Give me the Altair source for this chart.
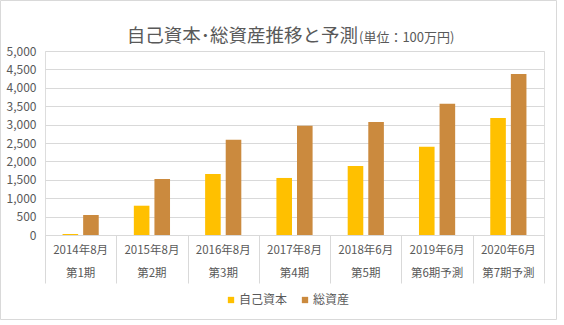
import altair as alt
import pandas as pd

periods_date = ["2014年8月", "2015年8月", "2016年8月", "2017年8月", "2018年6月", "2019年6月", "2020年6月"]
periods_term = ["第1期", "第2期", "第3期", "第4期", "第5期", "第6期予測", "第7期予測"]
series_names = ["自己資本", "総資産"]
equity = [30, 796, 1658, 1550, 1875, 2400, 3179]
assets = [543, 1522, 2585, 2970, 3072, 3568, 4375]
y_ticks = [0, 500, 1000, 1500, 2000, 2500, 3000, 3500, 4000, 4500, 5000]

colors = ["#FFC000", "#CB8A3E"]
FONT = "Noto Sans CJK JP"
TXT = "#595959"
GRID = "#D9D9D9"

rows = []
for i, p in enumerate(periods_date):
    rows.append({"period": p, "term": periods_term[i], "series": series_names[0], "value": equity[i], "order": 0})
    rows.append({"period": p, "term": periods_term[i], "series": series_names[1], "value": assets[i], "order": 1})
df = pd.DataFrame(rows)
labels_df = pd.DataFrame({"period": periods_date, "term": periods_term})

W, H = 499, 184

x_enc = alt.X(
    "period:N",
    sort=periods_date,
    scale=alt.Scale(paddingInner=0, paddingOuter=0),
    axis=alt.Axis(
        title=None, labels=False, tickBand="extent", tickColor=GRID, tickSize=48,
        domainColor=GRID, grid=False, tickWidth=1, domainWidth=1,
    ),
)

bars = alt.Chart(df).mark_bar().encode(
    x=x_enc,
    xOffset=alt.XOffset("series:N", sort=series_names,
                        scale=alt.Scale(paddingInner=0.243, paddingOuter=0.852)),
    y=alt.Y("value:Q", scale=alt.Scale(domain=[0, 5000], nice=False),
            axis=alt.Axis(title=None, values=y_ticks, format=",d", grid=True, gridColor=GRID,
                          domain=False, ticks=False, tickSize=0, labelPadding=9,
                          labelFont=FONT, labelFontSize=12, labelColor=TXT)),
    color=alt.Color("series:N", sort=series_names,
                    scale=alt.Scale(domain=series_names, range=colors),
                    legend=alt.Legend(title=None, orient="none", direction="horizontal",
                                      legendX=180, legendY=243, symbolType="square",
                                      symbolSize=40, symbolStrokeWidth=0, labelFont=FONT,
                                      labelFontSize=12, labelColor=TXT, labelOffset=2,
                                      columnPadding=11)),
)

lab1 = alt.Chart(labels_df).mark_text(font=FONT, fontSize=11.5, color=TXT, baseline="middle").encode(
    x=alt.X("period:N", sort=periods_date), y=alt.value(200), text="period:N")
lab2 = alt.Chart(labels_df).mark_text(font=FONT, fontSize=11.5, color=TXT, baseline="middle").encode(
    x=alt.X("period:N", sort=periods_date), y=alt.value(223), text="term:N")

one = pd.DataFrame({"t": ["自己資本･総資産推移と予測", "(単位：100万円)"]})
title_main = alt.Chart(one.iloc[[0]]).mark_text(font=FONT, fontSize=18.5, color=TXT, align="right",
                                                 baseline="alphabetic").encode(
    x=alt.value(313), y=alt.value(-9.5), text="t:N")
title_sub = alt.Chart(one.iloc[[1]]).mark_text(font=FONT, fontSize=13, color=TXT, align="left",
                                                baseline="alphabetic").encode(
    x=alt.value(314), y=alt.value(-9.5), text="t:N")

frame = alt.Chart(pd.DataFrame({"a": [0]})).mark_rect(fill=None, stroke=GRID, strokeWidth=1).encode(
    x=alt.value(-44.5), x2=alt.value(511.5), y=alt.value(-50.5), y2=alt.value(268.5))

chart = alt.layer(bars, lab1, lab2, title_main, title_sub, frame).properties(
    width=W, height=H,
    autosize=alt.AutoSizeParams(type="none"),
    padding={"left": 45, "top": 51, "right": 20, "bottom": 90},
).configure_view(stroke=None).configure(background="white")

chart.save("out.html", embed_options={"renderer": "svg", "actions": False})
